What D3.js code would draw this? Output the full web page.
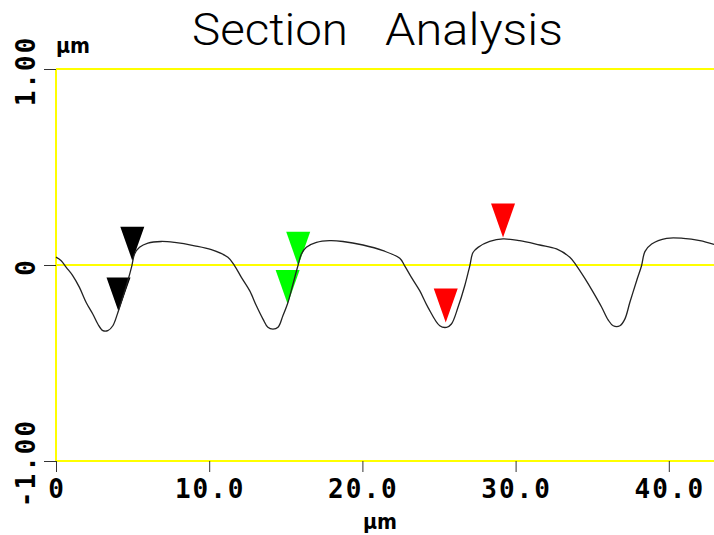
<!DOCTYPE html>
<html>
<head>
<meta charset="utf-8">
<script src="https://cdn.jsdelivr.net/npm/d3@7"></script>
<style>
  body { margin: 0; background: #fff; }
  svg { display: block; }
  .tick-label { font-family: "DejaVu Sans Mono", monospace; font-weight: bold; font-size: 26px; letter-spacing: 2px; fill: #000; }
  .unit { font-family: "DejaVu Sans", sans-serif; font-weight: bold; font-size: 22px; fill: #000; }
  .title { font-family: Roboto, "Open Sans", sans-serif; font-weight: 300; font-size: 45px; fill: #000; }
</style>
</head>
<body>
<div class="canvas"></div>
<script>
// section profile (um, um)
const profileX = [0, 0.34, 0.67, 1.10, 1.53, 1.97, 2.40, 2.73, 3.06, 3.38, 3.71, 4.04, 4.36, 4.69, 4.95, 5.13, 5.45, 6.00, 6.87, 7.74,
  9.05, 10.14, 11.22, 11.66, 12.10, 12.64, 13.08, 13.51, 13.83, 14.16, 14.49, 14.81, 15.14, 15.47, 15.79, 16.02, 16.34, 17.00, 17.86, 18.73,
  20.04, 21.35, 22.44, 22.76, 23.20, 23.74, 24.28, 25.05, 25.49, 25.81, 26.24, 26.68, 27.01, 27.22, 27.55, 28.31, 29.18, 30.27, 31.58, 32.67,
  33.54, 33.98, 34.52, 35.06, 35.61, 36.04, 36.37, 36.81, 37.13, 37.46, 37.90, 38.22, 38.44, 38.88, 39.86, 40.94, 42.03, 42.95];
const profileY = [0.04, 0.022, -0.012, -0.055, -0.114, -0.191, -0.25, -0.301, -0.335, -0.335, -0.31, -0.242, -0.165, -0.08, -0.004, 0.056, 0.09, 0.112, 0.12, 0.115,
  0.098, 0.078, 0.039, -0.004, -0.063, -0.131, -0.208, -0.276, -0.318, -0.327, -0.318, -0.259, -0.191, -0.097, -0.004, 0.056, 0.09, 0.115, 0.124, 0.12,
  0.102, 0.073, 0.034, -0.004, -0.063, -0.131, -0.216, -0.31, -0.318, -0.301, -0.216, -0.106, -0.004, 0.064, 0.09, 0.12, 0.133, 0.124, 0.102, 0.082,
  0.039, -0.004, -0.068, -0.138, -0.214, -0.28, -0.31, -0.31, -0.276, -0.19, -0.08, -0.004, 0.068, 0.107, 0.136, 0.136, 0.124, 0.105];

// cursor markers
const cursorX = [4.08, 4.98, 15.12, 15.81, 25.44, 29.18];
const cursorY = [-0.237, 0.022, -0.199, -0.004, -0.294, 0.14];
const cursorColors = ["#000000", "#000000", "#00ff00", "#00ff00", "#ff0000", "#ff0000"];

// ticks
const xTicks = [0, 10, 20, 30, 40];
const xTickLabels = ["0", "10.0", "20.0", "30.0", "40.0"];
const yTicks = [1, 0, -1];
const yTickLabels = ["1.00", "0", "-1.00"];

// dimensions
const w = 714;
const h = 535;
const plot = { left: 56, right: 714, top: 69, bottom: 461 };
const markerW = 24;
const markerH = 34;

const x = d3.scaleLinear().domain([0, 42.95]).range([plot.left, plot.right]);
const y = d3.scaleLinear().domain([-1, 1]).range([plot.bottom, plot.top]);

const svg = d3.select(".canvas").append("svg").attr("width", w).attr("height", h);

// title
svg.append("text").attr("class", "title").attr("x", 192).attr("y", 45)
  .attr("textLength", 156).attr("lengthAdjust", "spacingAndGlyphs").text("Section");
svg.append("text").attr("class", "title").attr("x", 385).attr("y", 45)
  .attr("textLength", 178).attr("lengthAdjust", "spacingAndGlyphs").text("Analysis");

// yellow reference lines
svg.selectAll(".hline")
  .data(yTicks)
  .enter()
  .append("line")
  .attr("class", "hline")
  .attr("x1", x(0))
  .attr("x2", w)
  .attr("y1", (d) => y(d))
  .attr("y2", (d) => y(d))
  .attr("stroke", "#ffff00")
  .attr("stroke-width", 2);

svg.append("line")
  .attr("x1", x(0)).attr("x2", x(0))
  .attr("y1", y(1)).attr("y2", y(-1))
  .attr("stroke", "#ffff00")
  .attr("stroke-width", 2);

// y ticks + labels
svg.selectAll(".ytick")
  .data(yTicks)
  .enter()
  .append("line")
  .attr("class", "ytick")
  .attr("x1", x(0) - 12)
  .attr("x2", x(0))
  .attr("y1", (d) => y(d) + 0.5)
  .attr("y2", (d) => y(d) + 0.5)
  .attr("stroke", "#333")
  .attr("stroke-width", 1);

svg.selectAll(".ylabel")
  .data(yTicks)
  .enter()
  .append("text")
  .attr("class", "tick-label")
  .attr("text-anchor", "middle")
  .attr("transform", (d) => `translate(35, ${y(d) + 2}) rotate(-90)`)
  .text((d, i) => yTickLabels[i]);

// x ticks + labels
svg.selectAll(".xtick")
  .data(xTicks)
  .enter()
  .append("line")
  .attr("class", "xtick")
  .attr("x1", (d) => x(d) + 0.5)
  .attr("x2", (d) => x(d) + 0.5)
  .attr("y1", y(-1))
  .attr("y2", y(-1) + 11)
  .attr("stroke", "#333")
  .attr("stroke-width", 1);

svg.selectAll(".xlabel")
  .data(xTicks)
  .enter()
  .append("text")
  .attr("class", "tick-label")
  .attr("text-anchor", "middle")
  .attr("x", (d) => x(d) + 1)
  .attr("y", 498)
  .text((d, i) => xTickLabels[i]);

// units
svg.append("text").attr("class", "unit").attr("x", 56).attr("y", 53)
  .attr("textLength", 34).attr("lengthAdjust", "spacingAndGlyphs").text("µm");
svg.append("text").attr("class", "unit").attr("x", 363).attr("y", 529)
  .attr("textLength", 34).attr("lengthAdjust", "spacingAndGlyphs").text("µm");

// cursor triangles (tip sits on the profile)
svg.selectAll(".cursor")
  .data(cursorX.map((cx, i) => ({ x: cx, y: cursorY[i], color: cursorColors[i] })))
  .enter()
  .append("path")
  .attr("class", "cursor")
  .attr("d", (d) => {
    const px = x(d.x), py = y(d.y);
    return `M${px},${py} L${px - markerW / 2},${py - markerH} L${px + markerW / 2},${py - markerH} Z`;
  })
  .attr("fill", (d) => d.color);

// profile line
const line = d3.line()
  .x((d) => x(d[0]))
  .y((d) => y(d[1]))
  .curve(d3.curveCatmullRom.alpha(0.5));

svg.append("path")
  .datum(profileX.map((px, i) => [px, profileY[i]]))
  .attr("d", line)
  .attr("fill", "none")
  .attr("stroke", "#222")
  .attr("stroke-width", 1.3);
</script>
</body>
</html>
